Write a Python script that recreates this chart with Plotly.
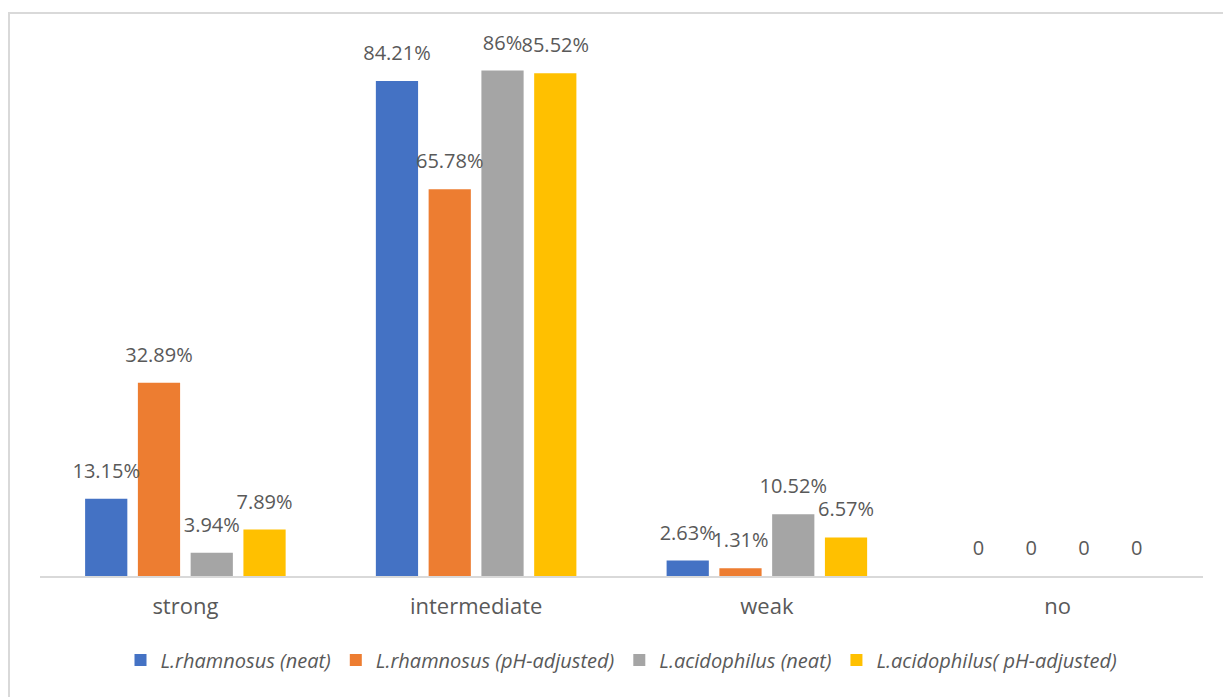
import plotly.graph_objects as go

categories = ["strong", "intermediate", "weak", "no"]
series_names = ["L.rhamnosus (neat)", "L.rhamnosus (pH-adjusted)",
                "L.acidophilus (neat)", "L.acidophilus( pH-adjusted)"]
rhamnosus_neat = [13.15, 84.21, 2.63, 0]
rhamnosus_ph = [32.89, 65.78, 1.31, 0]
acidophilus_neat = [3.94, 86, 10.52, 0]
acidophilus_ph = [7.89, 85.52, 6.57, 0]
colors = ["#4472C4", "#ED7D31", "#A5A5A5", "#FFC000"]

series_values = [rhamnosus_neat, rhamnosus_ph, acidophilus_neat, acidophilus_ph]

FONT = "Open Sans, Carlito, sans-serif"
BARGAP = 0.274

def label(v):
    return f"{v:g}%" if v else "0"

fig = go.Figure()
for i, (name, vals, col) in enumerate(zip(series_names, series_values, colors)):
    fig.add_trace(go.Bar(
        x=categories, y=vals, name=name, offsetgroup=str(i),
        marker=dict(color=col, line=dict(width=0)),
        hoverinfo="skip",
    ))
for i, (name, vals, col) in enumerate(zip(series_names, series_values, colors)):
    fig.add_trace(go.Scatter(
        x=categories, y=vals, mode="markers+text", name=name + " labels",
        offsetgroup=str(i), showlegend=False, hoverinfo="skip",
        marker=dict(size=24, opacity=0),
        text=[label(v) for v in vals], textposition="top center",
        textfont=dict(family=FONT, size=20, color="#595959"),
        cliponaxis=False,
    ))

W, H = 1223, 697
L, R, T, B = 40, 20, 47, 121
pw, ph = W - L - R, H - T - B

def px_x(p):
    return (p - L) / pw

def px_y(p):
    return (H - B - p) / ph

fig.update_layout(
    width=W, height=H,
    margin=dict(l=L, r=R, t=T, b=B),
    paper_bgcolor="white", plot_bgcolor="white",
    barmode="group", bargap=BARGAP, bargroupgap=0.2,
    scattermode="group", scattergap=BARGAP,
    font=dict(family=FONT, color="#595959"),
    showlegend=True,
    legend=dict(orientation="h", x=0.5, xanchor="center", y=px_y(660), yanchor="middle",
                font=dict(size=20, color="#595959", style="italic"),
                itemwidth=30, tracegroupgap=0),
    xaxis=dict(showline=True, linecolor="#D9D9D9", linewidth=2, ticks="",
               tickfont=dict(size=22, color="#595959"), showgrid=False,
               ticklabelstandoff=10),
    yaxis=dict(range=[0, 90], visible=False, showgrid=False),
    shapes=[
        dict(type="line", xref="paper", yref="paper", x0=px_x(9), x1=px_x(9),
             y0=px_y(13), y1=px_y(700), line=dict(color="#D9D9D9", width=2)),
        dict(type="line", xref="paper", yref="paper", x0=px_x(8), x1=px_x(1230),
             y0=px_y(13), y1=px_y(13), line=dict(color="#D9D9D9", width=2)),
    ],
)
fig.write_html("out.html")
